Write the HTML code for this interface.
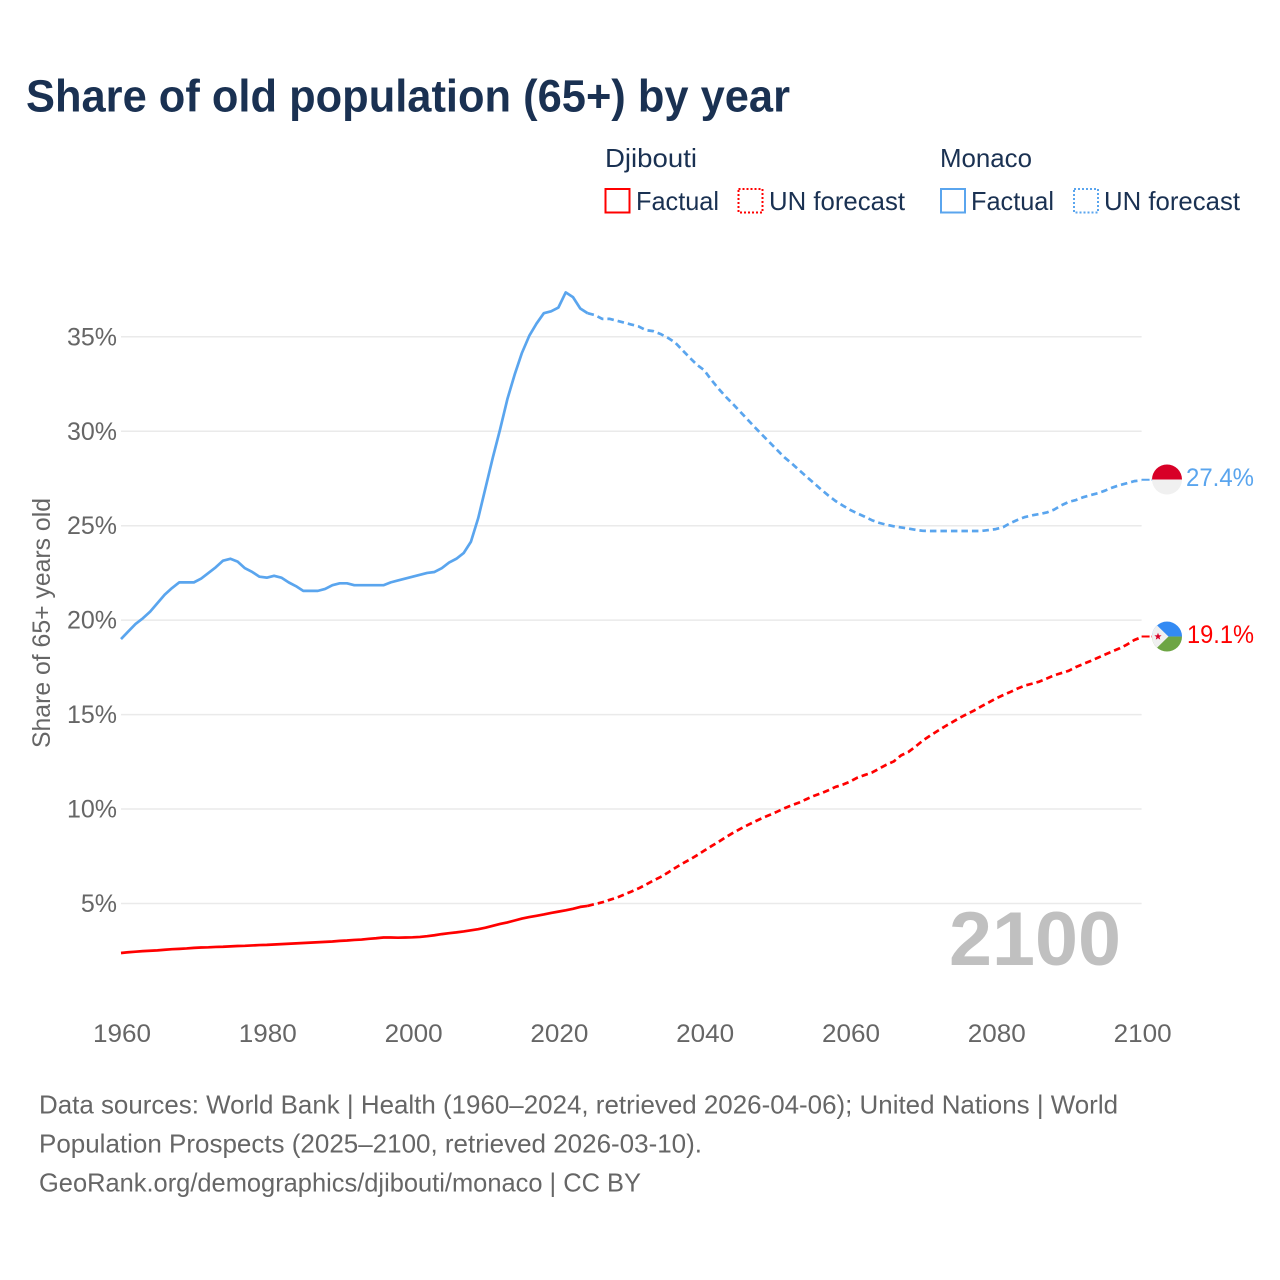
<!DOCTYPE html>
<html lang="en">
<head>
<meta charset="utf-8">
<title>Share of old population (65+) by year</title>
<style>
html,body{margin:0;padding:0;background:#fff;}
svg{display:block;}
text{font-family:"Liberation Sans",Arial,sans-serif;}
</style>
</head>
<body>
<svg id="chart" xmlns="http://www.w3.org/2000/svg" width="1280" height="1280" viewBox="0 0 1280 1280">
  <rect width="1280" height="1280" fill="#fff"/>
  <text x="26" y="111.5" font-size="45" font-weight="700" fill="#1a3152" textLength="764" lengthAdjust="spacingAndGlyphs">Share of old population (65+) by year</text>

  <g font-size="26" fill="#1a3152">
    <text x="605" y="167" textLength="92" lengthAdjust="spacingAndGlyphs">Djibouti</text>
    <text x="940" y="167" textLength="92" lengthAdjust="spacingAndGlyphs">Monaco</text>
    <g>
      <rect x="605.5" y="189" width="24" height="23.5" fill="none" stroke="#ff0000" stroke-width="2"/>
      <text x="636" y="210" textLength="83" lengthAdjust="spacingAndGlyphs">Factual</text>
    </g>
    <g>
      <rect x="738.5" y="189" width="24" height="23.5" fill="none" stroke="#ff0000" stroke-width="2" stroke-dasharray="2 2"/>
      <text x="769" y="210" textLength="136" lengthAdjust="spacingAndGlyphs">UN forecast</text>
    </g>
    <g>
      <rect x="941" y="189" width="24" height="23.5" fill="none" stroke="#5aa5ee" stroke-width="2"/>
      <text x="971" y="210" textLength="83" lengthAdjust="spacingAndGlyphs">Factual</text>
    </g>
    <g>
      <rect x="1074" y="189" width="24" height="23.5" fill="none" stroke="#5aa5ee" stroke-width="2" stroke-dasharray="2 2"/>
      <text x="1104" y="210" textLength="136" lengthAdjust="spacingAndGlyphs">UN forecast</text>
    </g>
  </g>

  <text transform="translate(50,748) rotate(-90)" font-size="25" fill="#666" textLength="250" lengthAdjust="spacingAndGlyphs">Share of 65+ years old</text>

  <g id="grid"></g>
  <g id="ytick-labels"></g>
  <g id="xtick-labels"></g>

  <text x="949" y="965" font-size="76" font-weight="700" fill="#c0c0c0" textLength="172" lengthAdjust="spacingAndGlyphs">2100</text>

  <g id="series"></g>
  <g id="flags"></g>

  <g font-size="26" fill="#666">
    <text x="39" y="1113.5" textLength="1079" lengthAdjust="spacingAndGlyphs">Data sources: World Bank | Health (1960–2024, retrieved 2026-04-06); United Nations | World</text>
    <text x="39" y="1152.5" textLength="663" lengthAdjust="spacingAndGlyphs">Population Prospects (2025–2100, retrieved 2026-03-10).</text>
    <text x="39" y="1191.5" textLength="602" lengthAdjust="spacingAndGlyphs">GeoRank.org/demographics/djibouti/monaco | CC BY</text>
  </g>
</svg>

<script>
const years = [
  1960,1961,1962,1963,1964,1965,1966,1967,1968,1969,
  1970,1971,1972,1973,1974,1975,1976,1977,1978,1979,
  1980,1981,1982,1983,1984,1985,1986,1987,1988,1989,
  1990,1991,1992,1993,1994,1995,1996,1997,1998,1999,
  2000,2001,2002,2003,2004,2005,2006,2007,2008,2009,
  2010,2011,2012,2013,2014,2015,2016,2017,2018,2019,
  2020,2021,2022,2023,2024,2025,2026,2027,2028,2029,
  2030,2031,2032,2033,2034,2035,2036,2037,2038,2039,
  2040,2041,2042,2043,2044,2045,2046,2047,2048,2049,
  2050,2051,2052,2053,2054,2055,2056,2057,2058,2059,
  2060,2061,2062,2063,2064,2065,2066,2067,2068,2069,
  2070,2071,2072,2073,2074,2075,2076,2077,2078,2079,
  2080,2081,2082,2083,2084,2085,2086,2087,2088,2089,
  2090,2091,2092,2093,2094,2095,2096,2097,2098,2099,
  2100
];
const monacoValues = [
  19.0,19.4,19.8,20.1,20.45,20.9,21.35,21.7,22.0,22.0,
  22.0,22.2,22.5,22.8,23.15,23.25,23.1,22.75,22.55,22.3,
  22.25,22.35,22.25,22.0,21.8,21.55,21.55,21.55,21.65,21.85,
  21.95,21.95,21.85,21.85,21.85,21.85,21.85,22.0,22.1,22.2,
  22.3,22.4,22.5,22.55,22.75,23.05,23.25,23.55,24.15,25.4,
  27.0,28.6,30.1,31.7,33.0,34.15,35.05,35.7,36.25,36.35,
  36.55,37.35,37.1,36.5,36.25,36.15,35.95,35.95,35.85,35.75,
  35.65,35.55,35.35,35.3,35.15,34.95,34.7,34.3,33.9,33.52,
  33.23,32.71,32.24,31.81,31.42,31.01,30.6,30.19,29.79,29.4,
  29.01,28.62,28.3,27.95,27.61,27.27,26.93,26.61,26.31,26.07,
  25.84,25.65,25.48,25.29,25.15,25.05,24.97,24.91,24.85,24.78,
  24.73,24.72,24.72,24.72,24.72,24.72,24.72,24.72,24.72,24.77,
  24.82,24.92,25.14,25.31,25.46,25.55,25.62,25.7,25.85,26.08,
  26.26,26.36,26.51,26.62,26.72,26.86,27.02,27.15,27.25,27.36,
  27.4
];
const djiboutiValues = [
  2.38,2.42,2.45,2.48,2.5,2.52,2.55,2.58,2.6,2.62,
  2.65,2.67,2.68,2.7,2.71,2.73,2.75,2.76,2.78,2.8,
  2.81,2.83,2.85,2.87,2.89,2.91,2.93,2.95,2.97,2.99,
  3.02,3.04,3.07,3.09,3.13,3.16,3.2,3.2,3.19,3.2,
  3.21,3.23,3.27,3.32,3.38,3.43,3.47,3.52,3.58,3.64,
  3.72,3.82,3.92,4.0,4.1,4.2,4.28,4.35,4.42,4.5,
  4.57,4.64,4.72,4.82,4.87,4.97,5.06,5.19,5.31,5.47,
  5.63,5.8,6.0,6.21,6.4,6.63,6.88,7.11,7.32,7.55,
  7.8,8.04,8.27,8.52,8.75,8.96,9.16,9.35,9.53,9.69,
  9.86,10.04,10.2,10.34,10.52,10.69,10.83,10.99,11.17,11.29,
  11.45,11.66,11.8,11.93,12.14,12.35,12.52,12.84,13.02,13.31,
  13.63,13.89,14.13,14.37,14.59,14.82,15.02,15.21,15.43,15.64,
  15.85,16.03,16.2,16.38,16.54,16.64,16.75,16.91,17.08,17.2,
  17.32,17.52,17.68,17.84,18.01,18.18,18.35,18.51,18.71,18.95,
  19.1
];
const lastFactualYear = 2024;
const yTicks = [5,10,15,20,25,30,35];
const xTicks = [1960,1980,2000,2020,2040,2060,2080,2100];

const NS = 'http://www.w3.org/2000/svg';
const xScale = function (yr) { return 121 + (yr - 1960) * 7.29; };
const yScale = function (v) { return 903.5 - (v - 5) * 18.89; };
const xEnd = xScale(2100);

function make(tag, parent, attrs) {
  const el = document.createElementNS(NS, tag);
  for (const k in attrs) el.setAttribute(k, attrs[k]);
  parent.appendChild(el);
  return el;
}

const gridG = document.getElementById('grid');
const yLabG = document.getElementById('ytick-labels');
yTicks.forEach(function (t) {
  const line = make('line', gridG, {x1: 121, x2: xEnd, y1: yScale(t), y2: yScale(t), stroke: '#eaeaea', 'stroke-width': 1.5});
  
  
  const lab = make('text', yLabG, {x: 117, y: yScale(t) + 8.5, 'text-anchor': 'end', 'font-size': 25, fill: '#666'});
  
  
  lab.textContent = t + '%';
});

const xLabG = document.getElementById('xtick-labels');
xTicks.forEach(function (t) {
  const lab = make('text', xLabG, {x: xScale(t) + 1, y: 1042, 'text-anchor': 'middle', 'font-size': 25, fill: '#666', textLength: 58, lengthAdjust: 'spacingAndGlyphs'});
  
  
  lab.textContent = String(t);
});

function pointsFor(values, test) {
  const pts = [];
  years.forEach(function (yr, i) {
    if (test(yr)) pts.push(xScale(yr).toFixed(2) + ',' + yScale(values[i]).toFixed(2));
  });
  return pts.join(' ');
}

const seriesG = document.getElementById('series');
function drawSeries(values, color, key) {
  const factual = make('polyline', seriesG, {
    points: pointsFor(values, function (y) { return y <= lastFactualYear; }),
    fill: 'none', stroke: color, 'stroke-width': 2.7, 'stroke-linejoin': 'round'
  });
  
  
  const forecast = make('polyline', seriesG, {
    points: pointsFor(values, function (y) { return y >= lastFactualYear; }),
    fill: 'none', stroke: color, 'stroke-width': 2.7, 'stroke-dasharray': '6.5 4', 'stroke-linejoin': 'round'
  });
  
  
  const lastY = yScale(values[values.length - 1]) - 0.6;
  const connector = make('line', seriesG, {
    x1: xEnd, x2: 1153, y1: lastY, y2: lastY, stroke: color, 'stroke-width': 2, 'stroke-dasharray': '8 2'
  });
  
  
}
drawSeries(djiboutiValues, '#ff0000', 'djibouti');
drawSeries(monacoValues, '#5aa5ee', 'monaco');

const flagsG = document.getElementById('flags');

/* Monaco flag and value */
(function () {
  const v = monacoValues[monacoValues.length - 1];
  const cy = yScale(v) - 0.9;
  const g = make('g', flagsG, {});
  
  
  const base = make('circle', g, {cx: 1167, cy: cy, r: 15, fill: '#f0f0f0'});
  
  
  const top = make('path', g, {d: 'M1152 ' + cy + ' A15 15 0 0 1 1182 ' + cy + ' Z', fill: '#d80027'});
  
  
  const lab = make('text', flagsG, {x: 1186, y: cy + 6.3, 'font-size': 25, fill: '#5aa5ee', textLength: 68, lengthAdjust: 'spacingAndGlyphs'});
  
  
  lab.textContent = v.toFixed(1) + '%';
})();

/* Djibouti flag and value */
(function () {
  const v = djiboutiValues[djiboutiValues.length - 1];
  const cy = yScale(v) - 0.6;
  const cx = 1167;
  const g = make('g', flagsG, {});
  
  
  const clip = make('clipPath', g, {id: 'dj-clip'});
  make('circle', clip, {cx: cx, cy: cy, r: 15});
  const inner = make('g', g, {'clip-path': 'url(#dj-clip)'});
  const blue = make('rect', inner, {x: cx - 15, y: cy - 15, width: 30, height: 15, fill: '#338af3'});
  
  
  const green = make('rect', inner, {x: cx - 15, y: cy, width: 30, height: 15, fill: '#6da544'});
  
  
  const tri = make('path', inner, {
    d: 'M' + (cx - 18) + ' ' + (cy - 19) + ' L' + (cx + 1.5) + ' ' + cy + ' L' + (cx - 18) + ' ' + (cy + 19) + ' Z',
    fill: '#f0f0f0'
  });
  
  
  const sx = cx - 9, r1 = 3.8, r2 = 1.6;
  const pts = [];
  for (let i = 0; i < 10; i++) {
    const a = -Math.PI / 2 + i * Math.PI / 5;
    const r = i % 2 ? r2 : r1;
    pts.push((sx + r * Math.cos(a)).toFixed(2) + ',' + (cy + r * Math.sin(a)).toFixed(2));
  }
  const star = make('polygon', inner, {points: pts.join(' '), fill: '#d80027'});
  
  
  const lab = make('text', flagsG, {x: 1187, y: cy + 6.3, 'font-size': 25, fill: '#ff0000', textLength: 67, lengthAdjust: 'spacingAndGlyphs'});
  
  
  lab.textContent = v.toFixed(1) + '%';
})();
</script>
</body>
</html>
